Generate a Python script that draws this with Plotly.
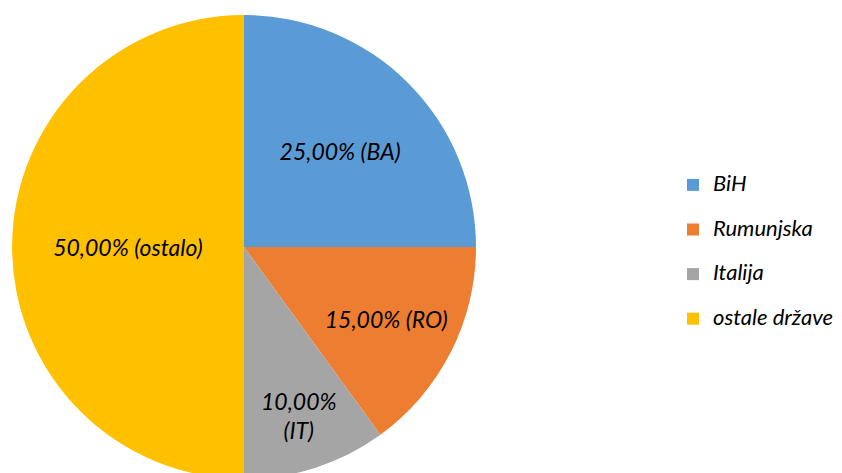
import plotly.graph_objects as go

labels = ["BiH", "Rumunjska", "Italija", "ostale države"]
values = [25, 15, 10, 50]
slice_text = ["25,00% (BA)", "15,00% (RO)", "10,00%<br>(IT)", "50,00% (ostalo)"]
colors = ["#5B9BD5", "#ED7D31", "#A5A5A5", "#FFC000"]

W, H = 842, 473
legend_labels = ["<span style='font-size:22px'>" + l + "</span><br> " for l in labels]

fig = go.Figure(go.Pie(
    labels=legend_labels,
    values=values,
    text=slice_text,
    textinfo="text",
    textposition="inside",
    insidetextorientation="horizontal",
    sort=False,
    direction="clockwise",
    rotation=0,
    marker=dict(colors=colors, line=dict(width=0)),
    textfont=dict(family="Lato", size=23, color="#000000", style="italic"),
    domain=dict(x=[4 / W, 468 / W], y=[2 / H, 466 / H]),
    hoverinfo="skip",
))
fig.update_layout(
    width=W, height=H,
    margin=dict(l=0, r=0, t=0, b=0),
    paper_bgcolor="white",
    showlegend=True,
    legend=dict(x=665 / W, y=1 - 160 / H, xanchor="left", yanchor="top",
                valign="top",
                font=dict(family="Lato", size=16, color="#000000", style="italic")),
)
fig.write_html("out.html")
